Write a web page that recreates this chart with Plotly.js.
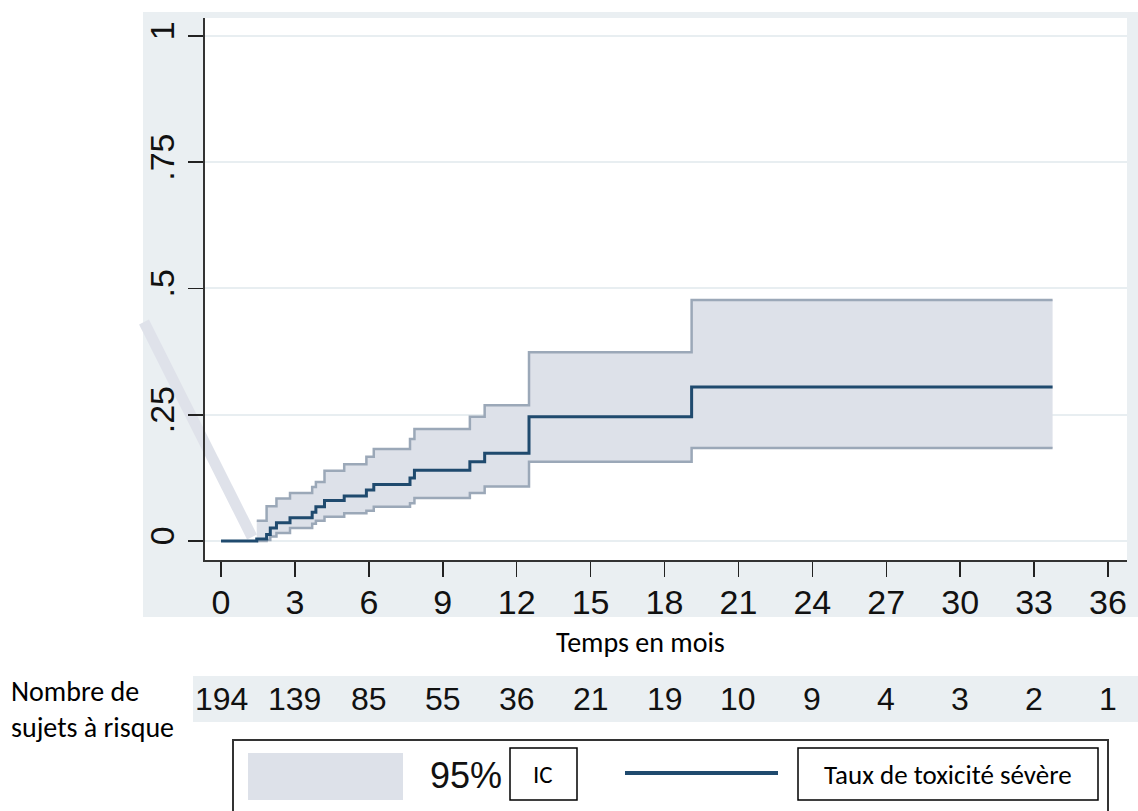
<!DOCTYPE html>
<html>
<head>
<meta charset="utf-8">
<script src="https://cdn.plot.ly/plotly-3.0.1.min.js"></script>
<style>html,body{margin:0;padding:0;background:#fff;}#chart{width:1138px;height:811px;}</style>
</head>
<body>
<div id="chart"></div>
<script>
// Step times (months)
const times = [0, 1.45, 1.85, 2.0, 2.25, 2.8, 3.7, 3.85, 4.2, 5.0, 5.9, 6.2, 7.67, 7.85, 10.1, 10.7, 12.5, 19.1, 33.75];
// Cumulative incidence of severe toxicity
const rate = [0, 0.004, 0.013, 0.026, 0.036, 0.046, 0.057, 0.068, 0.080, 0.089, 0.101, 0.112, 0.125, 0.140, 0.157, 0.174, 0.246, 0.305, 0.305];
// 95% CI bounds (start at first event)
const ciTimes = times.slice(1);
const upper = [0.040, 0.069, 0.069, 0.084, 0.095, 0.107, 0.117, 0.139, 0.152, 0.167, 0.182, 0.202, 0.222, 0.246, 0.269, 0.374, 0.477, 0.477];
const lower = [0.000, 0.002, 0.009, 0.016, 0.026, 0.034, 0.040, 0.048, 0.055, 0.060, 0.068, 0.075, 0.085, 0.095, 0.108, 0.157, 0.184, 0.184];
// Axis ticks
const xTicks = [0, 3, 6, 9, 12, 15, 18, 21, 24, 27, 30, 33, 36];
const yTicks = [0, 0.25, 0.5, 0.75, 1];
const yTickText = ['0', '.25', '.5', '.75', '1'];
// Number at risk
const riskTimes = [0, 3, 6, 9, 12, 15, 18, 21, 24, 27, 30, 33, 36];
const atRisk = [194, 139, 85, 55, 36, 21, 19, 10, 9, 4, 3, 2, 1];

const narrow = '"Liberation Sans Narrow", "Arial Narrow", "Liberation Sans", Arial, sans-serif';
const cal = 'Carlito, Lato, "Open Sans", sans-serif';
const bandColor = '#dde1e9';
const bandLine = '#9ba8b8';
const navy = '#1f4a6e';
const bgGray = '#eaeff2';

const traces = [
  {x: ciTimes, y: lower, type: 'scatter', mode: 'lines', line: {shape: 'hv', color: bandLine, width: 2.5}, hoverinfo: 'skip', showlegend: false},
  {x: ciTimes, y: upper, type: 'scatter', mode: 'lines', fill: 'tonexty', fillcolor: bandColor, line: {shape: 'hv', color: bandLine, width: 2.5}, hoverinfo: 'skip', showlegend: false},
  {x: times, y: rate, type: 'scatter', mode: 'lines', line: {shape: 'hv', color: navy, width: 3}, showlegend: false}
];

// helpers: pixel -> paper
const L = 205, R = 1127, T = 18, B = 560;
const px = v => (v - L) / (R - L);
const py = v => (B - v) / (B - T);

const shapes = [
  {type: 'rect', xref: 'paper', yref: 'paper', x0: px(143), x1: px(1138), y0: py(617), y1: py(12), fillcolor: bgGray, line: {width: 0}, layer: 'below'},
  {type: 'rect', xref: 'paper', yref: 'paper', x0: 0, x1: 1, y0: 0, y1: 1, fillcolor: '#ffffff', line: {width: 0}, layer: 'below'},
  {type: 'line', xref: 'paper', yref: 'paper', x0: px(144), y0: py(322), x1: px(252), y1: py(537), line: {color: '#dfe2ea', width: 11}, layer: 'below'},
  {type: 'rect', xref: 'paper', yref: 'paper', x0: px(193), x1: px(1138), y0: py(722), y1: py(676), fillcolor: bgGray, line: {width: 0}, layer: 'below'},
  {type: 'rect', xref: 'paper', yref: 'paper', x0: px(233), x1: px(1108), y0: py(830), y1: py(740), fillcolor: 'rgba(0,0,0,0)', line: {color: '#333333', width: 2}},
  {type: 'rect', xref: 'paper', yref: 'paper', x0: px(248), x1: px(403), y0: py(800), y1: py(753), fillcolor: bandColor, line: {width: 0}},
  {type: 'rect', xref: 'paper', yref: 'paper', x0: px(510), x1: px(577), y0: py(800), y1: py(748), fillcolor: '#ffffff', line: {color: '#000000', width: 1.5}},
  {type: 'line', xref: 'paper', yref: 'paper', x0: px(625), x1: px(778), y0: py(773), y1: py(773), line: {color: navy, width: 4}},
  {type: 'rect', xref: 'paper', yref: 'paper', x0: px(798), x1: px(1098), y0: py(800), y1: py(748), fillcolor: '#ffffff', line: {color: '#000000', width: 1.5}}
];

function ann(text, x, y, font, xanchor) {
  return {text: text, xref: 'paper', yref: 'paper', x: x, y: y, xanchor: xanchor || 'center', yanchor: 'middle', showarrow: false, font: font};
}
const calFont = {family: cal, size: 28, color: '#000'};
const annotations = [
  ann('Temps en mois', px(640), py(642), calFont),
  ann('Nombre de', px(9), py(691), calFont, 'left'),
  ann('sujets à risque', px(9), py(727), calFont, 'left'),
  ann('95%', px(466), py(775), {family: narrow, size: 36, color: '#111'}),
  ann('IC', px(543), py(774), {family: cal, size: 25, color: '#000'}),
  ann('Taux de toxicité sévère', px(948), py(774), {family: cal, size: 27, color: '#000'})
];
riskTimes.forEach((t, i) => {
  annotations.push({text: String(atRisk[i]), xref: 'x', yref: 'paper', x: t, y: py(699), xanchor: 'center', yanchor: 'middle', showarrow: false, font: {family: narrow, size: 32, color: '#111'}});
});

const layout = {
  width: 1138, height: 811,
  margin: {l: L, r: 1138 - R, t: T, b: 811 - B, pad: 0},
  paper_bgcolor: '#ffffff',
  plot_bgcolor: 'rgba(0,0,0,0)',
  showlegend: false,
  xaxis: {
    range: [-0.65, 36.77], tickvals: xTicks, ticktext: xTicks.map(String),
    ticks: 'outside', ticklen: 15, tickwidth: 1.5, tickcolor: '#222', ticklabelstandoff: -4,
    showline: true, linecolor: '#333', linewidth: 2, showgrid: false, zeroline: false,
    tickfont: {family: narrow, size: 34, color: '#111'}
  },
  yaxis: {
    range: [-0.0376, 1.0356], tickvals: yTicks, ticktext: yTickText, tickangle: -90,
    ticks: 'outside', ticklen: 15, tickwidth: 1.5, tickcolor: '#222',
    showline: true, linecolor: '#333', linewidth: 2, showgrid: true, gridcolor: '#e8eef1', gridwidth: 2, zeroline: false,
    tickfont: {family: narrow, size: 34, color: '#111'}
  },
  shapes: shapes,
  annotations: annotations
};

Plotly.newPlot('chart', traces, layout, {displayModeBar: false, staticPlot: true});
</script>
</body>
</html>
